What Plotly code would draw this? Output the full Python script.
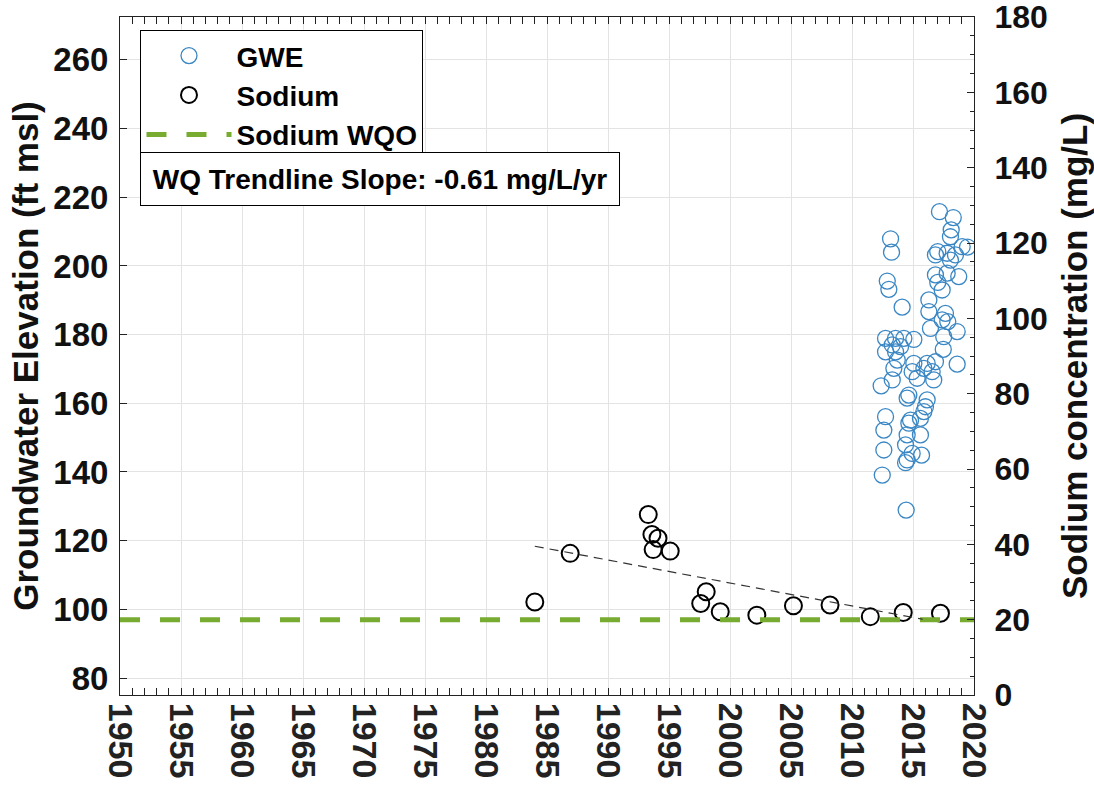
import plotly.graph_objects as go

# ---- data ----
gwe_year = [2017.17, 2018.30, 2013.16, 2013.24, 2018.13, 2018.07, 2019.03, 2017.03, 2016.84, 2017.80,
            2018.48, 2018.07, 2019.47, 2016.84, 2017.03, 2017.80, 2018.75, 2012.89, 2013.02, 2017.39,
            2014.11, 2016.30, 2016.30, 2017.66, 2017.39, 2017.85, 2016.43, 2018.62, 2017.52, 2017.48,
            2012.75, 2013.57, 2014.25, 2015.07, 2013.30, 2013.98, 2012.75, 2013.57, 2013.71, 2015.07,
            2016.16, 2016.84, 2018.62, 2013.43, 2014.93, 2015.34, 2015.89, 2016.57, 2016.70, 2012.39,
            2013.30, 2014.66, 2014.52, 2016.16, 2016.02, 2015.89, 2015.61, 2014.80, 2014.66, 2012.75,
            2012.61, 2014.52, 2015.61, 2014.39, 2012.61, 2014.93, 2015.70, 2014.52, 2014.39, 2012.48,
            2014.44]
gwe_elev = [215.8, 214.1, 207.9, 204.0, 210.5, 208.5, 205.6, 204.2, 203.2, 203.7,
            203.2, 201.7, 205.5, 197.4, 195.2, 197.9, 196.9, 195.6, 193.2, 193.0,
            188.0, 190.1, 186.7, 186.2, 184.3, 183.8, 181.8, 180.9, 179.4, 175.7,
            178.9, 178.9, 178.9, 178.6, 177.0, 176.5, 175.0, 175.0, 172.6, 171.6,
            171.6, 172.1, 171.4, 170.2, 169.2, 167.3, 170.2, 169.2, 166.8, 165.1,
            166.8, 162.4, 161.5, 161.0, 159.0, 157.6, 155.6, 155.1, 154.2, 156.1,
            152.2, 150.8, 150.8, 147.9, 146.4, 145.4, 144.9, 143.5, 142.7, 139.1,
            128.9]

na_year = [1984.0, 1986.9, 1993.3, 1993.6, 1994.1, 1993.7, 1995.1, 1998.05, 1997.6, 1999.2,
           2002.2, 2005.2, 2008.2, 2011.5, 2014.2, 2017.25]
na_conc = [24.7, 37.6, 47.9, 42.6, 41.6, 38.6, 38.2, 27.4, 24.3, 22.1,
           21.2, 23.7, 23.9, 20.8, 21.9, 21.7]

wqo_year = [1950, 2020]
wqo_conc = [20, 20]

trend_year = [1984.0, 2015.8]
trend_slope = -0.61
trend_start = 39.5
trend_conc = [trend_start + trend_slope * (y - trend_year[0]) for y in trend_year]

x_ticks = list(range(1950, 2021, 5))
left_ticks = list(range(80, 261, 20))
right_ticks = list(range(0, 181, 20))

FONT = "Liberation Sans"
BLUE = "#3a87c4"
GREEN = "#77ac30"
AX = "#222222"

fig = go.Figure()
fig.add_trace(go.Scatter(
    x=gwe_year, y=gwe_elev, mode="markers", name="GWE",
    marker=dict(symbol="circle-open", size=16, color=BLUE, line=dict(width=1.3, color=BLUE)),
    yaxis="y"))
fig.add_trace(go.Scatter(
    x=na_year, y=na_conc, mode="markers", name="Sodium",
    marker=dict(symbol="circle-open", size=17, color="black", line=dict(width=2, color="black")),
    yaxis="y2"))
fig.add_trace(go.Scatter(
    x=wqo_year, y=wqo_conc, mode="lines", name="Sodium WQO",
    line=dict(color=GREEN, width=5, dash="20px,20px"), yaxis="y2"))
fig.add_trace(go.Scatter(
    x=trend_year, y=trend_conc, mode="lines", showlegend=False,
    line=dict(color="#333333", width=1.2, dash="9px,6px"), yaxis="y2"))

fig.update_layout(
    width=1094, height=788,
    margin=dict(l=120, r=120, t=17, b=93),
    paper_bgcolor="white", plot_bgcolor="white",
    font=dict(family=FONT, color="black"),
    showlegend=True,
    legend=dict(x=0.024, y=0.981, xanchor="left", yanchor="top",
                bgcolor="white", bordercolor="black", borderwidth=1,
                font=dict(family=FONT, size=28, weight="bold", color="black"),
                itemwidth=85, tracegroupgap=0),
    xaxis=dict(range=[1950, 2020], tickvals=x_ticks, ticktext=[str(v) for v in x_ticks],
               tickangle=90, ticks="inside", ticklen=7, tickcolor=AX, automargin=False,
               minor=dict(dtick=1, tick0=1950, ticks="inside", ticklen=4, tickcolor=AX, showgrid=False),
               showgrid=True, gridcolor="#e3e3e3", gridwidth=1, ticklabeloverflow="allow",
               showline=True, linecolor=AX, linewidth=1, mirror="allticks",
               tickfont=dict(family=FONT, size=34, weight="bold", color="#222"), zeroline=False),
    yaxis=dict(range=[75.05, 272.5], tickvals=left_ticks, ticks="inside", ticklen=7, tickcolor=AX,
               showgrid=True, gridcolor="#e3e3e3", gridwidth=1, automargin=False,
               showline=True, linecolor=AX, linewidth=1, zeroline=False, ticklabelstandoff=4,
               ticklabeloverflow="allow",
               tickfont=dict(family=FONT, size=33, weight="bold", color="#111"),
               title=dict(text="Groundwater Elevation (ft msl)", standoff=4,
                          font=dict(family=FONT, size=35, weight="bold", color="#111"))),
    yaxis2=dict(range=[0, 180], tickvals=right_ticks, overlaying="y", side="right",
                ticks="inside", ticklen=7, tickcolor=AX, automargin=False,
                minor=dict(dtick=5, tick0=0, ticks="inside", ticklen=4, tickcolor=AX, showgrid=False),
                showgrid=False, showline=True, linecolor=AX, linewidth=1, zeroline=False,
                ticklabelstandoff=13, ticklabeloverflow="allow",
                tickfont=dict(family=FONT, size=32, weight="bold", color="#111"),
                title=dict(text="Sodium concentration (mg/L)", standoff=16,
                           font=dict(family=FONT, size=35, weight="bold", color="#111"))),
    annotations=[dict(
        text="WQ Trendline Slope: -0.61 mg/L/yr", xref="paper", yref="paper",
        x=0.024, y=0.8009, xanchor="left", yanchor="top", showarrow=False,
        width=470, height=44, borderpad=4, align="center",
        bordercolor="black", borderwidth=1, bgcolor="white",
        font=dict(family=FONT, size=28, weight="bold", color="black"))],
)

fig.write_html("out.html", config={"displayModeBar": False},
               post_script="document.body.style.margin='0';")
